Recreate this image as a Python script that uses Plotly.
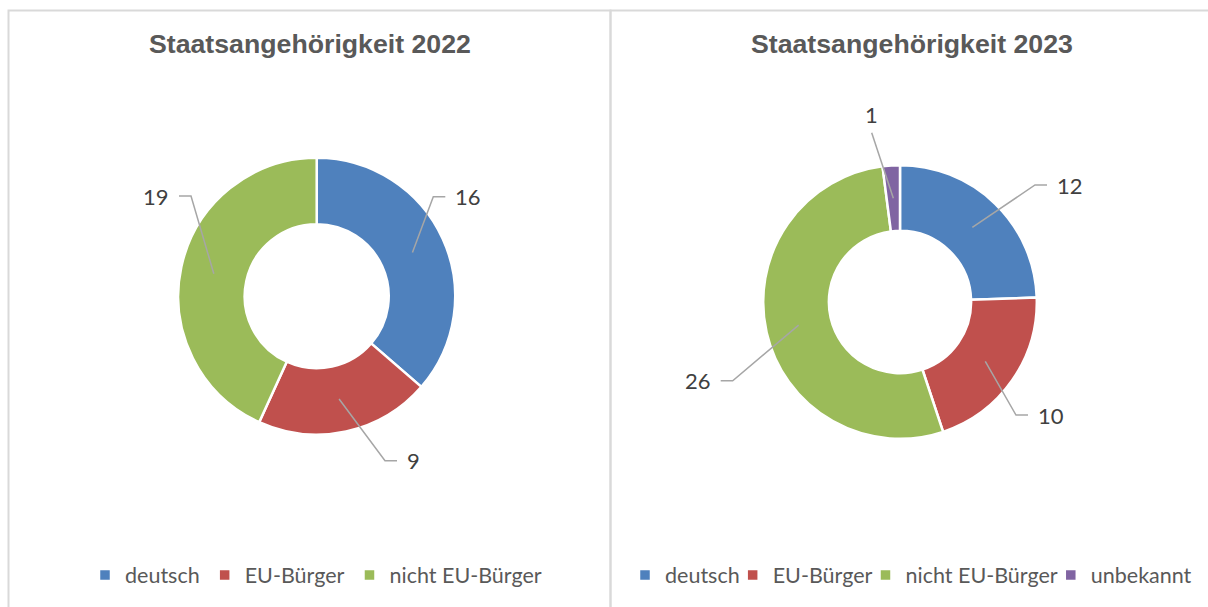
import math
import plotly.graph_objects as go

W, H = 1208, 607

TITLES = ["Staatsangehörigkeit 2022", "Staatsangehörigkeit 2023"]
LABELS_2022 = ["deutsch", "EU-Bürger", "nicht EU-Bürger"]
VALUES_2022 = [16, 9, 19]
LABELS_2023 = ["deutsch", "EU-Bürger", "nicht EU-Bürger", "unbekannt"]
VALUES_2023 = [12, 10, 26, 1]

COLORS = {
    "deutsch": "#4f81bd",
    "EU-Bürger": "#c0504d",
    "nicht EU-Bürger": "#9bbb59",
    "unbekannt": "#8064a2",
}

# donut placement in page pixels: centre x, centre y, outer radius
DONUTS = [(316.7, 296.2, 138.5), (900.0, 302.0, 136.8)]
HOLE = 0.52
# elbow of each leader line relative to the donut centre (px) and the side the number sits on
ELBOWS = [
    [(116.6, -99.5, 1), (68.3, 164.5, 1), (-125.7, -100.2, -1)],
    [(135, -117, 1), (116, 113, 1), (-167.3, 78.7, -1), (-28.3, -169.3, 0)],
]
BOX_X = [(8.5, 610.5), (610.5, 1220)]
LEGEND_X = [316, 917]
LEGEND_INDENT = [0, -12]

GRID = "#d9d9d9"
LINE = "#a6a6a6"
TXT = "#404040"
MUTED = "#595959"


def px(x):
    return x / W


def py(y):
    return 1 - y / H


fig = go.Figure()
data = [(LABELS_2022, VALUES_2022), (LABELS_2023, VALUES_2023)]

for i, (labels, values) in enumerate(data):
    cx, cy, r = DONUTS[i]
    fig.add_trace(go.Pie(
        labels=labels, values=values,
        hole=HOLE, sort=False, direction="clockwise", rotation=0,
        marker=dict(colors=[COLORS[l] for l in labels], line=dict(color="white", width=2.5)),
        textinfo="none", hoverinfo="label+value",
        domain=dict(x=[px(cx - r), px(cx + r)], y=[py(cy + r), py(cy - r)]),
        legend="legend" if i == 0 else "legend2",
        legendgroup=f"g{i}",  # keeps the slices of both pies in their own legend
    ))

    # leader lines + value labels
    total = sum(values)
    r_mid = r * (1 + HOLE) / 2
    cum = 0
    for v, (ex, ey, side) in zip(values, ELBOWS[i]):
        theta = 2 * math.pi * (cum + v / 2) / total
        cum += v
        x0, y0 = cx + r_mid * math.sin(theta), cy - r_mid * math.cos(theta)
        x1, y1 = cx + ex, cy + ey
        path = f"M{px(x0)},{py(y0)} L{px(x1)},{py(y1)}"
        if side:
            path += f" L{px(x1 + side * 12)},{py(y1)}"
        fig.add_shape(type="path", path=path, xref="paper", yref="paper",
                      line=dict(color=LINE, width=1.5))
        if side:
            fig.add_annotation(x=px(x1 + side * 20), y=py(y1), text=str(v),
                               xanchor="left" if side > 0 else "right", yanchor="middle",
                               font=dict(family="Lato", size=22, color=TXT))
        else:
            fig.add_annotation(x=px(x1), y=py(y1 - 3), text=str(v),
                               xanchor="center", yanchor="bottom",
                               font=dict(family="Lato", size=22, color=TXT))

    # chart area frame + title
    bx0, bx1 = BOX_X[i]
    fig.add_shape(type="rect", xref="paper", yref="paper",
                  x0=px(bx0), x1=px(bx1), y0=py(640), y1=py(10.5),
                  line=dict(color=GRID, width=2), layer="below")
    fig.add_annotation(x=px((bx0 + min(bx1, 1214)) / 2), y=py(44), text=TITLES[i],
                       xanchor="center", yanchor="middle",
                       font=dict(family="Liberation Sans, Arial", size=26.7, color=MUTED, weight="bold"))

fig.update_annotations(showarrow=False, xref="paper", yref="paper")

leg = dict(orientation="h", xanchor="center", yanchor="middle", y=py(575),
           traceorder="normal",
           font=dict(family="Lato", size=21.5, color=MUTED), itemwidth=30,
           bgcolor="rgba(0,0,0,0)")
fig.update_layout(
    width=W, height=H,
    margin=dict(l=0, r=0, t=0, b=0, autoexpand=False),
    paper_bgcolor="white",
    plot_bgcolor="white",
    showlegend=True,
    legend=dict(leg, x=px(LEGEND_X[0]), indentation=LEGEND_INDENT[0]),
    legend2=dict(leg, x=px(LEGEND_X[1]), indentation=LEGEND_INDENT[1]),
)

fig.write_html("out.html", config={"displayModeBar": False},
               post_script="document.body.style.margin='0';")
